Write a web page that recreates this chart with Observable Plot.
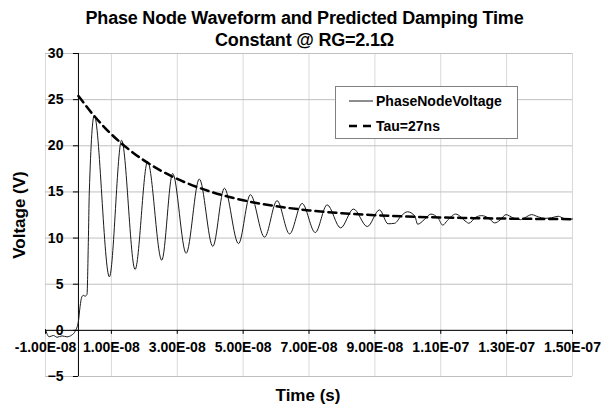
<!DOCTYPE html>
<html>
<head>
<meta charset="utf-8">
<script src="https://cdn.jsdelivr.net/npm/d3@7"></script>
<script src="https://cdn.jsdelivr.net/npm/@observablehq/plot@0.6"></script>
<style>
  body { margin: 0; background: #fff; }
  #wrap { position: relative; width: 609px; height: 406px; font-family: "Liberation Sans", Arial, sans-serif; font-weight: bold; color: #000; }
  #wrap > svg { position: absolute; left: 0; top: 0; }
  .title { position: absolute; left: 0; width: 609px; text-align: center; font-size: 18px; line-height: 22px; top: 7px; letter-spacing: -0.2px; }
  .ylab { position: absolute; left: 20px; top: 215px; font-size: 17px; white-space: nowrap; transform: translate(-50%, -50%) rotate(-90deg); }
  .xlab { position: absolute; left: 308px; top: 396px; font-size: 17px; white-space: nowrap; transform: translate(-50%, -50%); }
  .legend { position: absolute; left: 335px; top: 86px; width: 181px; height: 51px; border: 1px solid #808080; background: #fff; font-size: 14px; }
  .legend .row { position: absolute; left: 13px; height: 16px; display: flex; align-items: center; white-space: nowrap; }
  .legend .row svg { display: block; margin-right: 3px; }
</style>
</head>
<body>
<div id="wrap">
  <div class="title">Phase Node Waveform and Predicted Damping Time<br>Constant @ RG=2.1Ω</div>
  <div class="ylab">Voltage (V)</div>
  <div class="xlab">Time (s)</div>
  <div class="legend">
    <div class="row" style="top:6px"><svg width="24" height="4"><line x1="0" y1="2" x2="24" y2="2" stroke="#1a1a1a" stroke-width="1"/></svg><span>PhaseNodeVoltage</span></div>
    <div class="row" style="top:31px"><svg width="24" height="4"><line x1="0" y1="2" x2="24" y2="2" stroke="#000" stroke-width="2.5" stroke-dasharray="8,6"/></svg><span>Tau=27ns</span></div>
  </div>
</div>
<script>
// Tick values
const xTicks = [-1e-8, 1e-8, 3e-8, 5e-8, 7e-8, 9e-8, 1.1e-7, 1.3e-7, 1.5e-7];
const yTicks = [-5, 0, 5, 10, 15, 20, 25, 30];

// PhaseNodeVoltage waveform: time (ns) and voltage (V)
const waveT = [-10, -8.9, -7.6, -6.5, -5, -3.5, -2, -1, 0, 0.5, 1.0, 1.5, 2.0, 2.6, 3.0, 3.3, 4.8,
  9.4, 13.1, 17.2, 21.0, 25.3, 28.6, 32.7, 36.7, 40.8, 44.3, 48.6, 52.2, 56.5, 60.3, 64.1, 67.9,
  71.9, 75.5, 79.6, 83.5, 87.7, 91.4, 94.0, 96.0, 98.0, 99.9, 102.1, 103.0, 105.0, 107.0, 109.3,
  110.6, 112.0, 114.5, 117.8, 118.5, 120.6, 122.4, 124.4, 126.4, 128.0, 129.8, 131.9, 134.2,
  135.5, 137.6, 139.6, 141.6, 143.6, 145.7, 147.2, 148.7, 150];
const waveV = [0.1, -0.7, -0.55, -0.75, -0.6, -0.7, -0.5, -0.1, 1.0, 2.6, 3.6, 3.8, 3.7, 3.9, 9.5, 15, 23.3,
  5.8, 20.6, 6.6, 18.3, 7.6, 17.0, 8.35, 16.4, 9.1, 15.4, 9.4, 14.7, 10.1, 14.05, 10.45, 13.75,
  10.6, 13.6, 11.1, 13.15, 11.25, 13.05, 11.55, 11.6, 12.4, 12.85, 12.4, 11.5, 12.0, 12.6, 12.1,
  11.4, 11.9, 12.6, 11.75, 11.6, 12.25, 12.43, 12.2, 11.64, 11.95, 12.54, 12.2, 12.0,
  12.2, 12.54, 12.3, 12.14, 12.2, 12.36, 12.15, 12.05, 12.07];

// Tau=27ns envelope: time (ns) and voltage (V)
const tauT = [0, 5, 10, 15, 20, 25, 30, 40, 50, 60, 70, 80, 90, 100, 120, 150];
const tauV = [25.4, 23.14, 21.25, 19.69, 18.39, 17.31, 16.41, 15.04, 14.10, 13.45, 13.0, 12.69, 12.48, 12.33, 12.16, 12.05];

const wave = waveT.map((t, i) => ({t: t * 1e-9, v: waveV[i]}));
const tau = tauT.map((t, i) => ({t: t * 1e-9, v: tauV[i]}));

function sci(v) {
  const [m, e] = v.toExponential(2).split("e");
  const n = +e;
  return m + "E" + (n < 0 ? "-" : "+") + String(Math.abs(n)).padStart(2, "0");
}

const chart = Plot.plot({
  width: 609,
  height: 406,
  marginLeft: 45,
  marginRight: 37,
  marginTop: 53,
  marginBottom: 30,
  style: {fontFamily: "'Liberation Sans', Arial, sans-serif", fontSize: "14px", fontWeight: "bold", color: "#000", background: "transparent"},
  x: {domain: [-1e-8, 1.5e-7], axis: null},
  y: {domain: [-5, 30], axis: null},
  marks: [
    Plot.gridX(xTicks, {stroke: "#d9d9d9", strokeOpacity: 1}),
    Plot.gridY(yTicks, {stroke: "#c0c0c0", strokeOpacity: 1}),
    Plot.ruleX([0], {stroke: "#000", strokeWidth: 1}),
    Plot.ruleY([0], {stroke: "#000", strokeWidth: 1}),
    Plot.line(wave, {x: "t", y: "v", curve: "monotone-x", stroke: "#1a1a1a", strokeWidth: 1}),
    Plot.line(tau, {x: "t", y: "v", curve: "monotone-x", stroke: "#000", strokeWidth: 2.5, strokeDasharray: "8,5"}),
    Plot.axisY(yTicks, {x: 0, anchor: "left", tickSize: 5, tickPadding: 10, fill: "#000", stroke: "#000", label: null, fontSize: 14}),
    Plot.axisX(xTicks, {y: 0, anchor: "bottom", tickSize: 4, tickPadding: 8, tickFormat: sci, fill: "#000", stroke: "#000", label: null, fontSize: 14})
  ]
});
document.getElementById("wrap").prepend(chart);
</script>
</body>
</html>
